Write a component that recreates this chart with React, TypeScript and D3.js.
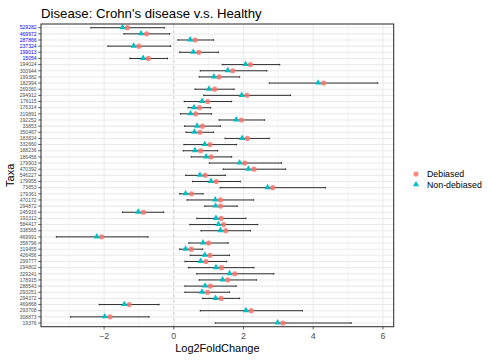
import React from "react";
import * as d3 from "d3";

const taxa = [
  "529282", "469972", "287866", "237324", "199013", "15054", "194024", "300944",
  "199382", "182994", "269360", "294912", "176115", "176314", "319891", "192252",
  "33853", "350467", "183824", "332660", "188236", "186456", "179903", "470392",
  "546227", "179955", "73853", "179361", "470172", "294872", "245916", "193312",
  "584417", "338565", "469991", "358796", "319455", "426456", "299777", "294802",
  "329241", "178915", "288543", "293251", "294372", "469868", "293708", "308873",
  "19376",
];

const highlighted = ["529282", "469972", "287866", "237324", "199013", "15054"];

const nonDebiased = [
  -1.47, -0.94, 0.47, -1.15, 0.56, -0.88, 2.06, 1.55, 1.15, 4.14, 1.01, 1.95,
  0.81, 0.58, 0.48, 1.79, 0.67, 0.59, 1.96, 0.89, 0.61, 0.93, 1.89, 2.14, 0.75,
  1.07, 2.69, 0.34, 1.19, 1.2, -1.02, 1.21, 1.28, 1.34, -2.21, 0.84, 0.34, 0.89,
  0.77, 1.21, 1.6, 1.4, 0.9, 0.81, 1.2, -1.42, 2.07, -1.98, 2.98,
];

const debiased = [
  -1.33, -0.78, 0.61, -1.0, 0.72, -0.73, 2.2, 1.69, 1.3, 4.3, 1.17, 2.1, 0.97,
  0.74, 0.63, 1.94, 0.82, 0.75, 2.11, 1.04, 0.77, 1.07, 2.04, 2.3, 0.9, 1.22,
  2.84, 0.51, 1.34, 1.34, -0.87, 1.36, 1.43, 1.49, -2.07, 1.0, 0.5, 1.04, 0.92,
  1.37, 1.75, 1.55, 1.05, 0.97, 1.36, -1.28, 2.22, -1.83, 3.13,
];

const lower = [
  -2.38, -1.43, 0.12, -1.89, 0.17, -1.26, 1.39, 0.76, 0.73, 2.74, 0.61, 0.86,
  0.3, 0.41, 0.19, 1.3, 0.31, 0.35, 1.47, 0.29, 0.27, 0.5, 1.02, 1.42, 0.34,
  0.54, 1.33, 0.17, 0.38, 0.89, -1.47, 0.66, 0.46, 0.78, -3.37, 0.43, 0.17, 0.47,
  0.32, 0.42, 0.66, 0.73, 0.32, 0.32, 0.83, -2.14, 0.76, -2.96, 1.19,
];

const upper = [
  -0.27, -0.12, 1.14, -0.09, 1.28, -0.18, 3.04, 2.67, 1.89, 5.85, 1.73, 3.35,
  1.66, 1.06, 1.08, 2.6, 1.34, 1.14, 2.74, 1.8, 1.26, 1.66, 3.09, 3.21, 1.48,
  1.91, 4.35, 0.84, 2.29, 1.82, -0.29, 2.07, 2.41, 2.2, -0.74, 1.56, 0.83, 1.6,
  1.52, 2.3, 2.87, 2.37, 1.79, 1.6, 1.89, -0.42, 3.69, -0.71, 5.09,
];

const xMajor = [-2, 0, 2, 4, 6];
const xMinor = [-3, -1, 1, 3, 5];

const width = 495;
const height = 360;
const panel = { left: 41, right: 393.7, top: 24, bottom: 326.7 };

const red = "#F8766D";
const teal = "#00BFC4";

export default function App() {
  const x = d3.scaleLinear().domain([-3.81, 6.31]).range([panel.left, panel.right]);
  const y = d3.scalePoint<string>().domain(taxa).range([panel.top, panel.bottom]).padding(0.6);
  const tri = d3.symbol().type(d3.symbolTriangle).size(17)();
  const font = "Liberation Sans, Arial, Helvetica, sans-serif";

  return (
    <svg
      width={width}
      height={height}
      style={{ position: "absolute", left: 0, top: 0, background: "#fff" }}
      fontFamily={font}
    >
      <rect x={0} y={0} width={width} height={height} fill="#fff" />
      <text x={panel.left} y={18} fontSize={13.2} fill="#000">
        Disease: Crohn's disease v.s. Healthy
      </text>

      {/* grid */}
      <g>
        {xMinor.map((v) => (
          <line key={"mi" + v} x1={x(v)} x2={x(v)} y1={panel.top} y2={panel.bottom} stroke="#EBEBEB" strokeWidth={0.55} />
        ))}
        {taxa.map((t) => (
          <line key={"h" + t} x1={panel.left} x2={panel.right} y1={y(t)} y2={y(t)} stroke="#EBEBEB" strokeWidth={1.07} />
        ))}
        {xMajor.map((v) => (
          <line key={"ma" + v} x1={x(v)} x2={x(v)} y1={panel.top} y2={panel.bottom} stroke="#EBEBEB" strokeWidth={1.07} />
        ))}
        <line x1={x(0)} x2={x(0)} y1={panel.top} y2={panel.bottom} stroke="#BEBEBE" strokeWidth={0.6} strokeDasharray="3,3" />
      </g>

      {/* error bars */}
      <g stroke="#1a1a1a" strokeWidth={0.9}>
        {taxa.map((t, i) => {
          const yy = y(t) as number;
          return (
            <g key={"e" + t}>
              <line x1={x(lower[i])} x2={x(upper[i])} y1={yy} y2={yy} />
              <line x1={x(lower[i])} x2={x(lower[i])} y1={yy - 0.8} y2={yy + 0.8} />
              <line x1={x(upper[i])} x2={x(upper[i])} y1={yy - 0.8} y2={yy + 0.8} />
            </g>
          );
        })}
      </g>

      {/* points */}
      <g>
        {taxa.map((t, i) => (
          <circle key={"c" + t} cx={x(debiased[i])} cy={y(t)} r={2.6} fill={red} fillOpacity={0.85} />
        ))}
        {taxa.map((t, i) => (
          <path key={"t" + t} d={tri as string} transform={`translate(${x(nonDebiased[i])},${(y(t) as number) - 0.3})`} fill={teal} />
        ))}
      </g>

      {/* panel border */}
      <rect
        x={panel.left}
        y={panel.top}
        width={panel.right - panel.left}
        height={panel.bottom - panel.top}
        fill="none"
        stroke="#333333"
        strokeWidth={1.07}
      />

      {/* y axis */}
      <g>
        {taxa.map((t) => (
          <g key={"yt" + t}>
            <line x1={panel.left - 2.75} x2={panel.left} y1={y(t)} y2={y(t)} stroke="#333333" strokeWidth={0.8} />
            <text
              x={panel.left - 4.5}
              y={y(t)}
              dy="0.35em"
              textAnchor="end"
              fontSize={5}
              fill={highlighted.includes(t) ? "#0000FF" : "#4D4D4D"}
            >
              {t}
            </text>
          </g>
        ))}
      </g>

      {/* x axis */}
      <g>
        {xMajor.map((v) => (
          <g key={"xt" + v}>
            <line x1={x(v)} x2={x(v)} y1={panel.bottom} y2={panel.bottom + 2.75} stroke="#333333" strokeWidth={0.8} />
            <text x={x(v)} y={panel.bottom + 12} textAnchor="middle" fontSize={8.8} fill="#4D4D4D">
              {v < 0 ? "\u2212" + Math.abs(v) : v}
            </text>
          </g>
        ))}
      </g>

      <text x={(panel.left + panel.right) / 2} y={352} textAnchor="middle" fontSize={11} fill="#000">
        Log2FoldChange
      </text>
      <text
        transform={`translate(14,${(panel.top + panel.bottom) / 2}) rotate(-90)`}
        textAnchor="middle"
        fontSize={11}
        fill="#000"
      >
        Taxa
      </text>

      {/* legend */}
      <g>
        <circle cx={416} cy={174} r={2.6} fill={red} fillOpacity={0.85} />
        <text x={427} y={177} fontSize={8.8} fill="#000">Debiased</text>
        <path d={tri as string} transform="translate(416,184.5)" fill={teal} />
        <text x={427} y={188} fontSize={8.8} fill="#000">Non-debiased</text>
      </g>
    </svg>
  );
}
